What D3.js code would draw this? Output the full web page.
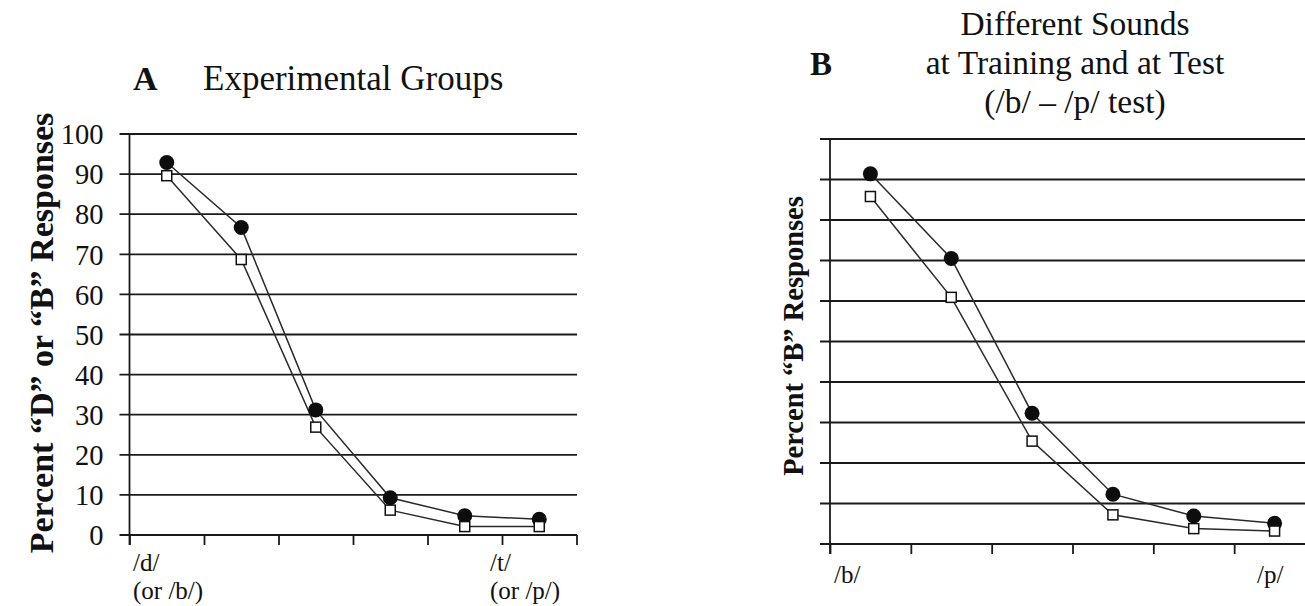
<!DOCTYPE html>
<html>
<head>
<meta charset="utf-8">
<script src="https://cdn.jsdelivr.net/npm/d3@7"></script>
<style>
  html, body { margin: 0; padding: 0; background: #fff; }
  svg { display: block; }
</style>
</head>
<body>
<svg id="chart" width="1305" height="606"></svg>
<script>
// Continuum steps (6 stimuli along the speech continuum)
const steps = [1, 2, 3, 4, 5, 6];
const yTicks = [0, 10, 20, 30, 40, 50, 60, 70, 80, 90, 100];

// Panel A: Experimental Groups
const groupA_filled = [92.9, 76.7, 31.2, 9.3, 4.8, 3.9];
const groupA_open   = [89.6, 68.7, 26.9, 6.2, 2.1, 2.1];
const endLabelsA = [["/d/", "(or /b/)"], ["/t/", "(or /p/)"]];

// Panel B: Different sounds at training and at test (/b/ – /p/ test)
const groupB_filled = [91.4, 70.5, 32.3, 12.3, 6.9, 5.1];
const groupB_open   = [85.8, 60.9, 25.4, 7.2, 3.8, 3.2];
const endLabelsB = [["/b/"], ["/p/"]];

const SERIF = '"Liberation Serif", "Times New Roman", Times, "DejaVu Serif", serif';
const svg = d3.select("#chart").attr("font-family", SERIF).style("font-family", SERIF);

function label(sel) {
  return sel.attr("font-family", SERIF).style("font-family", SERIF).attr("fill", "#111");
}

function drawPanel(p) {
  const g = svg.append("g");
  const x = d3.scaleBand().domain(steps).range([p.x0, p.x1]);
  const xe = d3.scaleLinear().domain([0, steps.length]).range([p.x0, p.x1]);
  const y = d3.scaleLinear().domain([0, 100]).range([p.y0, p.y100]);

  // horizontal grid lines
  g.append("g").selectAll("line").data(yTicks).join("line")
    .attr("x1", p.x0 - 10).attr("x2", p.gridRight)
    .attr("y1", d => y(d)).attr("y2", d => y(d))
    .attr("stroke", "#1a1a1a").attr("stroke-width", 1.8);

  // vertical axis line
  g.append("line")
    .attr("x1", p.x0).attr("x2", p.x0)
    .attr("y1", y(100)).attr("y2", y(0) + 10)
    .attr("stroke", "#1a1a1a").attr("stroke-width", 1.8);

  // x ticks at the band edges
  const xAxis = g.append("g")
    .attr("transform", `translate(0,${y(0)})`)
    .call(d3.axisBottom(xe).ticks(steps.length).tickSize(10).tickFormat(""));
  xAxis.select(".domain").remove();
  xAxis.selectAll(".tick line").attr("stroke", "#1a1a1a").attr("stroke-width", 1.8);

  // y tick labels
  if (p.showYLabels) {
    const yAxis = g.append("g")
      .attr("transform", `translate(${p.x0 - 26},0)`)
      .call(d3.axisLeft(y).tickValues(yTicks).tickSize(0).tickPadding(0));
    yAxis.attr("font-family", SERIF).attr("font-size", 28);
    yAxis.select(".domain").remove();
    label(yAxis.selectAll(".tick text")).style("font-size", "28.5px").attr("dy", "0.34em");
  }

  // y axis title
  label(g.append("text"))
    .attr("transform", `translate(${p.ylabX},${p.ylabY}) rotate(-90)`)
    .attr("text-anchor", "middle")
    .style("font-size", p.ylabSize + "px").style("font-weight", "bold")
    .text(p.ylabel);

  // continuum end labels
  p.endLabels.forEach((lines, i) => {
    const lx = i === 0 ? p.startLabelX : p.endLabelX;
    lines.forEach((t, k) => {
      label(g.append("text")).attr("x", lx).attr("y", p.endLabelY + k * 28)
        .style("font-size", "25px").text(t);
    });
  });

  // series lines and markers
  const line = d3.line().x((d, i) => x(steps[i]) + x.bandwidth() / 2).y(d => y(d));
  [p.filled, p.open].forEach(vals => {
    g.append("path").datum(vals).attr("d", line)
      .attr("fill", "none").attr("stroke", "#2a2a2a").attr("stroke-width", 1.5);
  });
  g.append("g").selectAll("circle").data(p.filled).join("circle")
    .attr("cx", (d, i) => x(steps[i]) + x.bandwidth() / 2)
    .attr("cy", d => y(d)).attr("r", 7.5).attr("fill", "#0d0d0d");
  const s = 10;
  g.append("g").selectAll("rect").data(p.open).join("rect")
    .attr("x", (d, i) => x(steps[i]) + x.bandwidth() / 2 - s / 2)
    .attr("y", d => y(d) - s / 2).attr("width", s).attr("height", s)
    .attr("fill", "#fff").attr("stroke", "#111").attr("stroke-width", 1.5);
}

drawPanel({
  x0: 129.5, x1: 576.5, y0: 535, y100: 134, gridRight: 577,
  showYLabels: true,
  ylabel: "Percent \u201CD\u201D or \u201CB\u201D Responses", ylabX: 53, ylabY: 333, ylabSize: 34,
  endLabels: endLabelsA, startLabelX: 133, endLabelX: 490, endLabelY: 571,
  filled: groupA_filled, open: groupA_open
});

drawPanel({
  x0: 830, x1: 1315, y0: 544, y100: 139, gridRight: 1305,
  showYLabels: false,
  ylabel: "Percent \u201CB\u201D Responses", ylabX: 803, ylabY: 336, ylabSize: 28.5,
  endLabels: endLabelsB, startLabelX: 834, endLabelX: 1257, endLabelY: 583,
  filled: groupB_filled, open: groupB_open
});

// panel titles
label(svg.append("text")).attr("x", 133).attr("y", 90)
  .style("font-size", "34px").style("font-weight", "bold").text("A");
label(svg.append("text")).attr("x", 203).attr("y", 90)
  .style("font-size", "35px").text("Experimental Groups");

label(svg.append("text")).attr("x", 810).attr("y", 75)
  .style("font-size", "33px").style("font-weight", "bold").text("B");
["Different Sounds", "at Training and at Test", "(/b/ \u2013 /p/ test)"].forEach((t, i) => {
  label(svg.append("text")).attr("x", 1075).attr("y", 35 + i * 39)
    .attr("text-anchor", "middle").style("font-size", "33.5px").text(t);
});
</script>
</body>
</html>
